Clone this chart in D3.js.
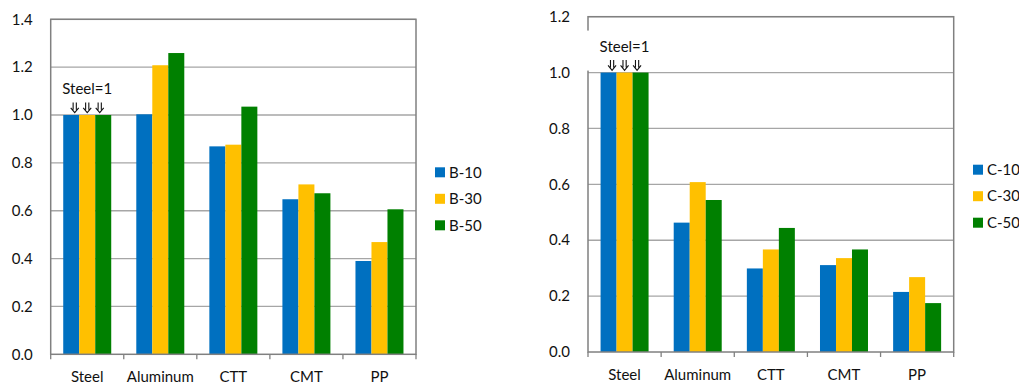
<!DOCTYPE html>
<html>
<head>
<meta charset="utf-8">
<script src="https://cdn.jsdelivr.net/npm/d3@7"></script>
<style>
  html, body { margin: 0; padding: 0; background: #fff; }
  svg { display: block; }
  text { font-family: Lato, "Open Sans", sans-serif; fill: #111; }
</style>
</head>
<body>
<svg id="chart" width="1019" height="385"></svg>
<script>
// Materials compared (each relative to steel = 1)
const categories = ["Steel", "Aluminum", "CTT", "CMT", "PP"];

// Panel B series
const seriesB = ["B-10", "B-30", "B-50"];
const b10 = [1.00, 1.003, 0.869, 0.648, 0.390];
const b30 = [1.00, 1.208, 0.876, 0.710, 0.469];
const b50 = [1.00, 1.259, 1.035, 0.673, 0.606];
const ticksB = [0, 0.2, 0.4, 0.6, 0.8, 1.0, 1.2, 1.4];

// Panel C series
const seriesC = ["C-10", "C-30", "C-50"];
const c10 = [1.00, 0.463, 0.299, 0.311, 0.215];
const c30 = [1.00, 0.608, 0.367, 0.336, 0.268];
const c50 = [1.00, 0.544, 0.444, 0.367, 0.175];
const ticksC = [0, 0.2, 0.4, 0.6, 0.8, 1.0, 1.2];

const colors = ["#0070C0", "#FFC000", "#008000"];
const refLabel = "Steel=1";

const svg = d3.select("#chart");

// double-shafted downward arrow (⇓), tip at (0, 0)
function doubleArrow(sel) {
  sel.append("path")
    .attr("d", "M-1.6,-10.5V-3.2M1.6,-10.5V-3.2M-4,-5.2L0,-0.3L4,-5.2")
    .attr("fill", "none")
    .attr("stroke", "#111")
    .attr("stroke-width", 1.1);
}

function panel(opts) {
  const { left, right, top, bottom, yMax, ticks, series, values, legendX, legendY, labelBase } = opts;
  const g = svg.append("g");

  const x = d3.scaleBand().domain(categories).range([left, right]).paddingInner(0).paddingOuter(0);
  const groupW = 48;
  const xs = d3.scaleBand().domain(series).range([0, groupW]);
  const y = d3.scaleLinear().domain([0, yMax]).range([bottom, top]);

  // horizontal gridlines
  g.append("g")
    .selectAll("line")
    .data(ticks.filter(t => t > 0))
    .join("line")
    .attr("x1", left).attr("x2", right)
    .attr("y1", d => y(d)).attr("y2", d => y(d))
    .attr("stroke", "#a6a6a6").attr("stroke-width", 1.3);

  // y tick labels
  g.append("g")
    .selectAll("text")
    .data(ticks)
    .join("text")
    .attr("x", left - 18)
    .attr("y", d => y(d))
    .attr("dy", "0.35em")
    .attr("text-anchor", "end")
    .attr("font-size", 15)
    .text(d => d3.format(".1f")(d));

  // bars
  const rows = categories.map((c, i) => ({ c, v: values.map(arr => arr[i]) }));
  const groups = g.append("g")
    .selectAll("g")
    .data(rows)
    .join("g")
    .attr("transform", d => `translate(${x(d.c) + (x.bandwidth() - groupW) / 2},0)`);
  groups.selectAll("rect")
    .data(d => d.v.map((v, k) => ({ s: series[k], v, k })))
    .join("rect")
    .attr("x", d => xs(d.s))
    .attr("width", xs.bandwidth())
    .attr("y", d => y(d.v))
    .attr("height", d => y(0) - y(d.v))
    .attr("fill", d => colors[d.k]);

  const cx = x("Steel") + x.bandwidth() / 2;

  // plot frame
  g.append("rect")
    .attr("x", left).attr("y", top)
    .attr("width", right - left).attr("height", bottom - top)
    .attr("fill", "none").attr("stroke", "#808080").attr("stroke-width", 1.5);
  if (opts.labelBox) {
    // the note's white box hides a stretch of the left frame
    g.append("rect")
      .attr("x", left - 2).attr("y", y(1) - 42)
      .attr("width", 4).attr("height", 40).attr("fill", "#fff");
  }

  // x axis tick marks at category boundaries
  const edges = categories.map(c => x(c)).concat([right]);
  g.append("g")
    .selectAll("line")
    .data(edges)
    .join("line")
    .attr("x1", d => d).attr("x2", d => d)
    .attr("y1", bottom).attr("y2", bottom + 5)
    .attr("stroke", "#808080").attr("stroke-width", 1.3);

  g.append("g")
    .selectAll("text")
    .data(categories)
    .join("text")
    .attr("x", d => x(d) + x.bandwidth() / 2)
    .attr("y", labelBase)
    .attr("text-anchor", "middle")
    .attr("font-size", 15)
    .text(d => d);

  // steel reference note with arrows
  g.append("text")
    .attr("x", cx).attr("y", y(1) - 21)
    .attr("text-anchor", "middle")
    .attr("font-size", 15)
    .text(refLabel);
  g.append("g")
    .selectAll("g")
    .data([-1, 0, 1])
    .join("g")
    .attr("transform", d => `translate(${cx + d * 12.5},${y(1) - 2})`)
    .call(doubleArrow);

  // legend
  const lg = g.append("g")
    .selectAll("g")
    .data(series)
    .join("g")
    .attr("transform", (d, i) => `translate(${legendX},${legendY + i * 26.5})`);
  lg.append("rect").attr("width", 10).attr("height", 10).attr("fill", (d, i) => colors[i]);
  lg.append("text").attr("x", 14).attr("y", 5).attr("dy", "0.35em").attr("font-size", 15).text(d => d);
}

panel({
  left: 50.7, right: 416, top: 19.3, bottom: 354.3, yMax: 1.4, ticks: ticksB,
  series: seriesB, values: [b10, b30, b50], legendX: 435, legendY: 167.3, labelBase: 382,
  labelBox: false
});
panel({
  left: 588, right: 953.7, top: 16.7, bottom: 352, yMax: 1.2, ticks: ticksC,
  series: seriesC, values: [c10, c30, c50], legendX: 973, legendY: 164.7, labelBase: 379.5,
  labelBox: true
});
</script>
</body>
</html>
